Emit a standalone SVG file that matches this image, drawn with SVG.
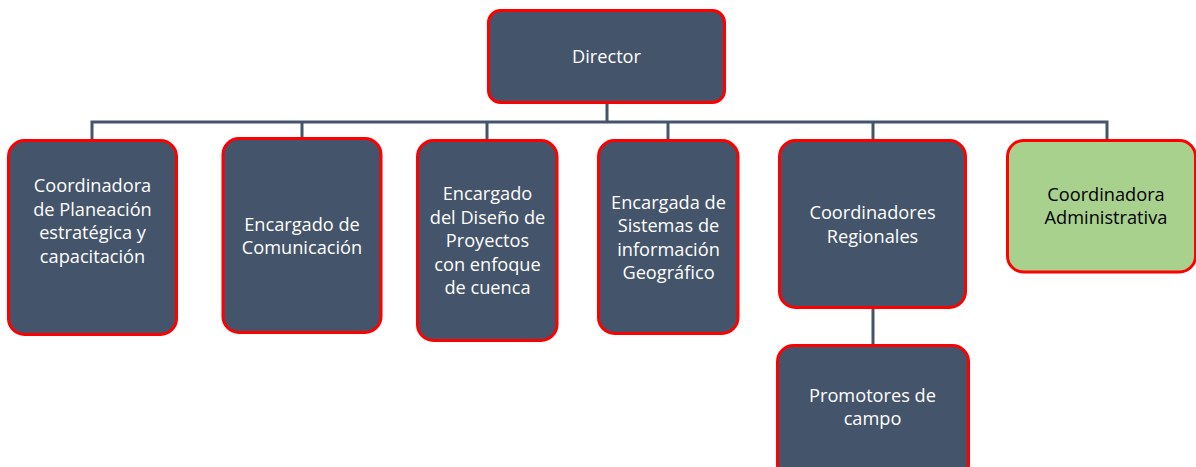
<svg xmlns="http://www.w3.org/2000/svg" width="1196" height="467" viewBox="0 0 1196 467">
<style>
.box{fill:#44546A;stroke:#FF0000;stroke-width:3}
.green{fill:#A9D18E;stroke:#FF0000;stroke-width:3}
.t{font-family:"Open Sans","Liberation Sans",sans-serif;font-size:18.2px;fill:#FFFFFF;text-anchor:middle}
.tk{font-family:"Open Sans","Liberation Sans",sans-serif;font-size:18.2px;fill:#000000;text-anchor:middle}
.c{stroke:#44546A;stroke-width:3;fill:none}
</style>
<rect width="1196" height="467" fill="#FFFFFF"/>
<g id="connectors">
<path class="c" d="M607 103 V122 M92 140 V122 H1107 V140 M302 138 V122 M487 140 V122 M668 140 V122 M873 140 V122 M873 308 V345"/>
</g>
<g id="director">
<rect class="box" x="488.5" y="10.5" width="236" height="92" rx="12"/>
<text class="t" x="606.5" y="63">Director</text>
</g>
<g id="coord-planeacion">
<rect class="box" x="8.5" y="140.5" width="168" height="194" rx="16"/>
<text class="t" x="92.5" y="192">Coordinadora</text>
<text class="t" x="92.5" y="215.5">de Planeación</text>
<text class="t" x="92.5" y="239">estratégica y</text>
<text class="t" x="92.5" y="262.5">capacitación</text>
</g>
<g id="enc-comunicacion">
<rect class="box" x="223" y="138.5" width="158" height="194" rx="16"/>
<text class="t" x="302" y="230.5">Encargado de</text>
<text class="t" x="302" y="254">Comunicación</text>
</g>
<g id="enc-diseno">
<rect class="box" x="417.5" y="140.5" width="139.5" height="200" rx="16"/>
<text class="t" x="487.5" y="200">Encargado</text>
<text class="t" x="487.5" y="223.5">del Diseño de</text>
<text class="t" x="487.5" y="247">Proyectos</text>
<text class="t" x="487.5" y="270.5">con enfoque</text>
<text class="t" x="487.5" y="294">de cuenca</text>
</g>
<g id="enc-sistemas">
<rect class="box" x="598.5" y="140.5" width="139.5" height="193" rx="16"/>
<text class="t" x="668.5" y="208.5">Encargada de</text>
<text class="t" x="668.5" y="232">Sistemas de</text>
<text class="t" x="668.5" y="255.5">información</text>
<text class="t" x="668.5" y="279">Geográfico</text>
</g>
<g id="coord-regionales">
<rect class="box" x="779.5" y="140.5" width="186" height="167" rx="16"/>
<text class="t" x="872.5" y="219">Coordinadores</text>
<text class="t" x="872.5" y="242.5">Regionales</text>
</g>
<g id="coord-administrativa">
<rect class="green" x="1007.5" y="140.5" width="188" height="131.5" rx="16"/>
<text class="tk" x="1106" y="200.5">Coordinadora</text>
<text class="tk" x="1106" y="224">Administrativa</text>
</g>
<g id="promotores">
<rect class="box" x="777.5" y="345.5" width="191" height="135" rx="16"/>
<text class="t" x="872.5" y="401.5">Promotores de</text>
<text class="t" x="872.5" y="425">campo</text>
</g>
</svg>
